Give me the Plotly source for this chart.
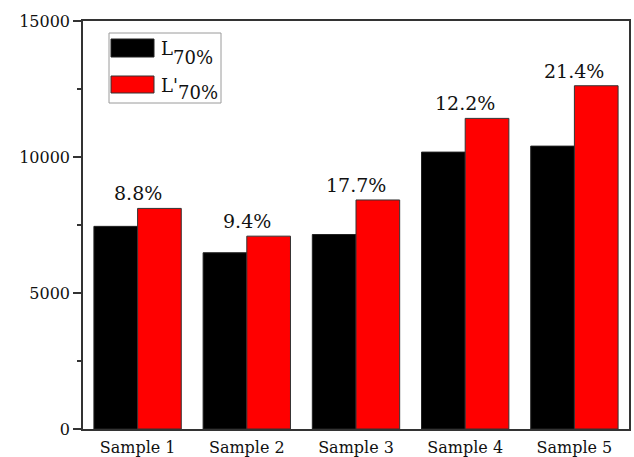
import plotly.graph_objects as go

categories = ["Sample 1", "Sample 2", "Sample 3", "Sample 4", "Sample 5"]
l70 = [7450, 6480, 7150, 10180, 10400]
l70_prime = [8110, 7090, 8420, 11420, 12620]
increase_labels = ["8.8%", "9.4%", "17.7%", "12.2%", "21.4%"]
y_ticks = [0, 5000, 10000, 15000]
y_tick_text = ["0", "5000", "10000", "15000"]

W, H = 634, 457
L, R, T, B = 83, 5, 21, 28
PW, PH = W - L - R, H - T - B

def px(x):
    return (x - L) / PW

def py(y):
    return (H - B - y) / PH

FONT = "DejaVu Serif"
AX = "#333333"

fig = go.Figure()
fig.add_trace(go.Bar(x=categories, y=l70, name="L70%", marker=dict(color="#000000", line=dict(color="#222222", width=1)), showlegend=False))
fig.add_trace(go.Bar(x=categories, y=l70_prime, name="L'70%", marker=dict(color="#FF0000", line=dict(color="#333333", width=1)), showlegend=False))

for c, v, t in zip(categories, l70_prime, increase_labels):
    fig.add_annotation(x=c, y=v, text=t, showarrow=False, yanchor="bottom", yshift=2,
                       font=dict(family=FONT, size=19, color="#111111"))

# custom legend
fig.add_shape(type="rect", xref="paper", yref="paper", x0=px(109), x1=px(221), y0=py(103), y1=py(33),
              line=dict(color="#9a9a9a", width=1), fillcolor="white", layer="above")
fig.add_shape(type="rect", xref="paper", yref="paper", x0=px(111), x1=px(154), y0=py(57), y1=py(39),
              line=dict(color="#222222", width=1), fillcolor="#000000", layer="above")
fig.add_shape(type="rect", xref="paper", yref="paper", x0=px(111), x1=px(154), y0=py(93), y1=py(76),
              line=dict(color="#333333", width=1), fillcolor="#FF0000", layer="above")
leg = [("L", 159, 49), ("70%", 171, 57), ("L'", 159, 85), ("70%", 176, 92)]
for txt, x, y in leg:
    fig.add_annotation(xref="paper", yref="paper", x=px(x), y=py(y), text=txt, showarrow=False,
                       xanchor="left", yanchor="middle", font=dict(family=FONT, size=18, color="#111111"))

fig.update_layout(
    width=W, height=H,
    margin=dict(l=L, r=R, t=T, b=B),
    paper_bgcolor="white", plot_bgcolor="white",
    barmode="group", bargap=0.2, bargroupgap=0,
    font=dict(family=FONT, size=16, color="#111111"),
)
fig.update_xaxes(range=[-0.5, 4.5], showline=True, linecolor=AX, linewidth=1.5, mirror=True, automargin=False,
                 ticks="", showgrid=False, tickfont=dict(family=FONT, size=16), ticklabelstandoff=3)
fig.update_yaxes(range=[0, 15000], tickvals=y_ticks, ticktext=y_tick_text, showline=True, linecolor=AX,
                 linewidth=1.5, mirror=True, automargin=False,
                 ticks="outside", ticklen=8, tickcolor=AX, tickwidth=1.5, showgrid=False, zeroline=False,
                 tickfont=dict(family=FONT, size=16),
                 minor=dict(tickvals=[2500, 7500, 12500], ticks="outside", ticklen=4, tickcolor=AX, tickwidth=1.5, showgrid=False))

fig.write_html("out.html", config={"displayModeBar": False},
               post_script="document.body.style.margin='0';document.body.style.overflow='hidden';")
